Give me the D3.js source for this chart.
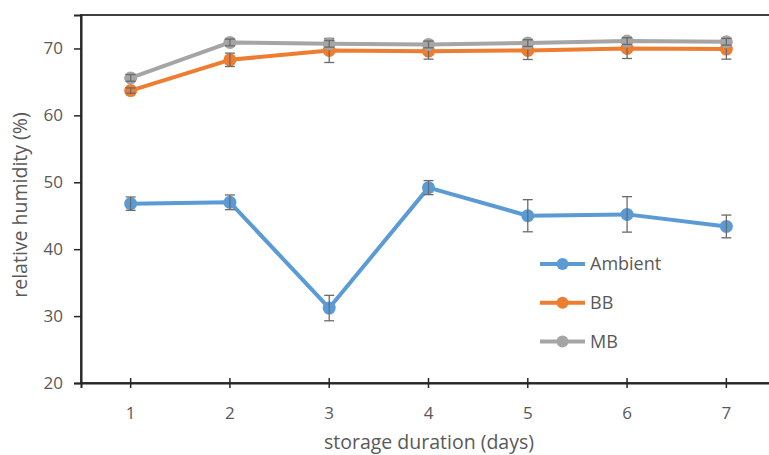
<!DOCTYPE html>
<html>
<head>
<meta charset="utf-8">
<script src="https://cdn.jsdelivr.net/npm/d3@7"></script>
<style>
  body { margin: 0; background: #fff; }
  svg text { font-family: "Open Sans", sans-serif; fill: #595959; }
</style>
</head>
<body>
<svg id="chart" width="769" height="455"></svg>
<script>
const days = [1, 2, 3, 4, 5, 6, 7];
const yTicks = [20, 30, 40, 50, 60, 70];

const ambient = [46.8, 47.0, 31.2, 49.2, 45.0, 45.2, 43.4];
const ambientErr = [1.0, 1.1, 1.9, 1.05, 2.4, 2.65, 1.7];
const bb = [63.7, 68.3, 69.7, 69.6, 69.7, 70.0, 69.9];
const bbErr = [0.4, 1.0, 1.8, 1.2, 1.35, 1.5, 1.5];
const mb = [65.6, 70.9, 70.7, 70.6, 70.8, 71.1, 71.0];
const mbErr = [0.5, 0.5, 0.5, 0.5, 0.5, 0.5, 0.5];

const series = [
  { name: "Ambient", values: ambient, err: ambientErr, color: "#5B9BD5" },
  { name: "BB", values: bb, err: bbErr, color: "#ED7D31" },
  { name: "MB", values: mb, err: mbErr, color: "#A5A5A5" }
];

const svg = d3.select("#chart");
const plotL = 81, plotR = 776, plotT = 15, plotB = 383;

const x = d3.scaleBand().domain(days).range([plotL, plotR]);
const y = d3.scaleLinear().domain([20, 75]).range([plotB, plotT]);
const cx = d => x(d) + x.bandwidth() / 2;

// Plot frame
svg.append("rect")
    .attr("x", plotL).attr("y", plotT)
    .attr("width", plotR - plotL).attr("height", plotB - plotT)
    .attr("fill", "none").attr("stroke", "#404040").attr("stroke-width", 2);

// Axes
const xAxis = svg.append("g")
    .attr("transform", `translate(0,${plotB})`)
    .call(d3.axisBottom(x).tickSize(5).tickPadding(19));
xAxis.select(".domain").attr("stroke", "#262626").attr("stroke-width", 2);
xAxis.selectAll(".tick line").attr("y1", -5).attr("y2", 5).attr("stroke", "#262626").attr("stroke-width", 1.5);
xAxis.selectAll(".tick text").style("font-size", "17px").attr("fill", "#595959");

const yAxis = svg.append("g")
    .attr("transform", `translate(${plotL},0)`)
    .call(d3.axisLeft(y).tickValues(yTicks).tickSize(7).tickPadding(11));
yAxis.select(".domain").attr("stroke", "#262626").attr("stroke-width", 2);
yAxis.selectAll(".tick line").attr("stroke", "#262626").attr("stroke-width", 1.5);
yAxis.selectAll(".tick text").style("font-size", "17px").attr("fill", "#595959");

// Axis titles
svg.append("text")
    .attr("x", 429).attr("y", 449)
    .attr("text-anchor", "middle")
    .style("font-size", "19.5px")
    .text("storage duration (days)");

svg.append("text")
    .attr("transform", `translate(27,${(plotT + plotB) / 2 + 6}) rotate(-90)`)
    .attr("text-anchor", "middle")
    .style("font-size", "19.5px")
    .text("relative humidity (%)");

// Series
const line = d3.line().x((d, i) => cx(days[i])).y(d => y(d));

series.forEach(s => {
  const g = svg.append("g");
  g.append("path")
      .datum(s.values)
      .attr("fill", "none")
      .attr("stroke", s.color)
      .attr("stroke-width", 4)
      .attr("stroke-linejoin", "round")
      .attr("d", line);

  g.selectAll("circle")
      .data(s.values)
      .enter().append("circle")
      .attr("cx", (d, i) => cx(days[i]))
      .attr("cy", d => y(d))
      .attr("r", 6.5)
      .attr("fill", s.color);

  // Error bars
  const eb = g.selectAll("g.err")
      .data(s.values.map((v, i) => ({ x: cx(days[i]), lo: v - s.err[i], hi: v + s.err[i] })))
      .enter().append("g")
      .attr("stroke", "#6b6b6b")
      .attr("stroke-width", 1.3);
  eb.append("line").attr("x1", d => d.x).attr("x2", d => d.x).attr("y1", d => y(d.lo)).attr("y2", d => y(d.hi));
  eb.append("line").attr("x1", d => d.x - 5).attr("x2", d => d.x + 5).attr("y1", d => y(d.lo)).attr("y2", d => y(d.lo));
  eb.append("line").attr("x1", d => d.x - 5).attr("x2", d => d.x + 5).attr("y1", d => y(d.hi)).attr("y2", d => y(d.hi));
});

// Legend
const legend = svg.append("g").attr("transform", "translate(540,264)");
series.forEach((s, i) => {
  const row = legend.append("g").attr("transform", `translate(0,${i * 38.7})`);
  row.append("line").attr("x1", 0).attr("x2", 45).attr("y1", 0).attr("y2", 0)
      .attr("stroke", s.color).attr("stroke-width", 4);
  row.append("circle").attr("cx", 22.5).attr("cy", 0).attr("r", 6).attr("fill", s.color);
  row.append("text").attr("x", 50).attr("y", 0).attr("dy", "0.35em")
      .style("font-size", "18px").text(s.name);
});
</script>
</body>
</html>
